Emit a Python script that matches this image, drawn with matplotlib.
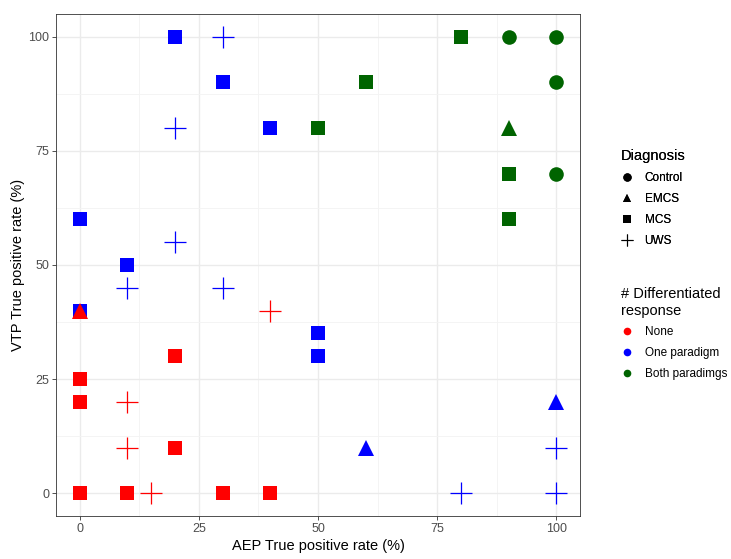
import matplotlib
matplotlib.use('Agg')
import matplotlib.pyplot as plt
from matplotlib.lines import Line2D

plt.rcParams['font.family'] = ['Liberation Sans', 'DejaVu Sans']

# data: AEP rate, VTP rate, diagnosis, response group
aep = [90, 100, 100, 100, 90, 80, 60, 50, 90, 90,
       20, 30, 40, 0, 10, 0, 50, 50,
       30, 20, 20, 10, 30, 80, 100, 100,
       60, 100,
       0, 0, 20, 20, 0, 10, 30, 40,
       40, 10, 10, 15,
       0]
vtp = [100, 100, 90, 70, 80, 100, 90, 80, 70, 60,
       100, 90, 80, 60, 50, 40, 35, 30,
       100, 80, 55, 45, 45, 0, 0, 10,
       10, 20,
       25, 20, 30, 10, 0, 0, 0, 0,
       40, 20, 10, 0,
       40]
diagnosis = ['Control', 'Control', 'Control', 'Control', 'EMCS', 'MCS', 'MCS', 'MCS', 'MCS', 'MCS',
             'MCS', 'MCS', 'MCS', 'MCS', 'MCS', 'MCS', 'MCS', 'MCS',
             'UWS', 'UWS', 'UWS', 'UWS', 'UWS', 'UWS', 'UWS', 'UWS',
             'EMCS', 'EMCS',
             'MCS', 'MCS', 'MCS', 'MCS', 'MCS', 'MCS', 'MCS', 'MCS',
             'UWS', 'UWS', 'UWS', 'UWS',
             'EMCS']
response = ['Both paradimgs'] * 10 + ['One paradigm'] * 18 + ['None'] * 13

diag_levels = ['Control', 'EMCS', 'MCS', 'UWS']
resp_levels = ['None', 'One paradigm', 'Both paradimgs']
resp_colors = {'None': '#FF0000', 'One paradigm': '#0000FF', 'Both paradimgs': '#006400'}
markers = {'Control': 'o', 'EMCS': '^', 'MCS': 's', 'UWS': '+'}
msize = {'Control': 10.5, 'EMCS': 12.2, 'MCS': 10.5, 'UWS': 15.5}

fig = plt.figure(figsize=(7.31, 5.59), dpi=100)
ax = fig.add_axes([0.0766, 0.077, 0.7168, 0.898])

for x, y, d, r in zip(aep, vtp, diagnosis, response):
    mew = 0.9 if d == 'UWS' else 0
    ax.plot([x], [y], marker=markers[d], markersize=msize[d], color=resp_colors[r],
            markeredgecolor=resp_colors[r], markeredgewidth=mew, linestyle='none', zorder=3)

ax.set_xlim(-5, 105)
ax.set_ylim(-5, 105)
ax.set_xticks([0, 25, 50, 75, 100])
ax.set_yticks([0, 25, 50, 75, 100])
ax.set_xticks([12.5, 37.5, 62.5, 87.5], minor=True)
ax.set_yticks([12.5, 37.5, 62.5, 87.5], minor=True)
ax.grid(True, which='major', color='#EBEBEB', linewidth=1.0, zorder=0)
ax.grid(True, which='minor', color='#F3F3F3', linewidth=0.6, zorder=0)
ax.set_axisbelow(True)
ax.tick_params(which='major', colors='#333333', labelcolor='#4D4D4D', labelsize=9, length=3, width=0.6, pad=2)
ax.tick_params(which='minor', length=0)
for s in ax.spines.values():
    s.set_color('#333333')
    s.set_linewidth(0.6)
ax.set_xlabel('AEP True positive rate (%)', fontsize=10.5, labelpad=3)
ax.set_ylabel('VTP True positive rate (%)', fontsize=10.5, labelpad=2)

h1 = [Line2D([], [], marker=markers[d], color='black', linestyle='none',
             markersize=6 if d != 'UWS' else 8, markeredgewidth=0.8 if d == 'UWS' else 0)
      for d in diag_levels]
leg1 = fig.legend(h1, diag_levels, title='Diagnosis', loc='upper left', bbox_to_anchor=(0.835, 0.752),
                  frameon=False, fontsize=8.5, title_fontsize=10.5, alignment='left',
                  handlelength=1.0, handletextpad=1.0, labelspacing=0.75)
fig.add_artist(leg1)
h2 = [Line2D([], [], marker='o', color=resp_colors[r], linestyle='none', markersize=5.5, markeredgewidth=0)
      for r in resp_levels]
fig.legend(h2, resp_levels, title='# Differentiated\nresponse', loc='upper left', bbox_to_anchor=(0.835, 0.505),
           frameon=False, fontsize=8.5, title_fontsize=10.5, alignment='left',
           handlelength=1.0, handletextpad=1.0, labelspacing=0.75)

fig.savefig('out.png', dpi=100)
